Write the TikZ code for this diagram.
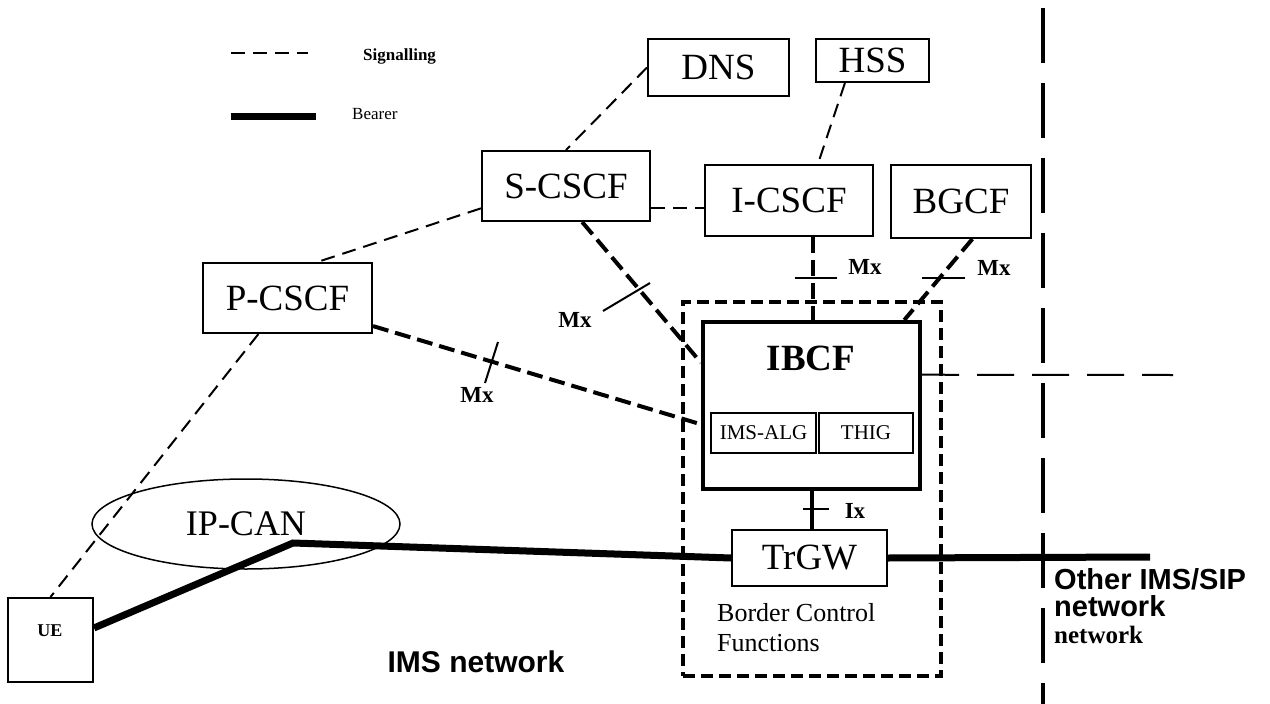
\documentclass[tikz,border=0pt]{standalone}
\usepackage{fontspec}
\setmainfont{Liberation Serif}
\setsansfont{Liberation Sans}
\usetikzlibrary{calc,shapes.geometric}
\begin{document}
\begin{tikzpicture}[x=1pt,y=-1pt,
  box/.style={draw, line width=2pt, fill=white, inner sep=0pt},
  big/.style={font=\fontsize{37}{40}\selectfont},
  sig/.style={dash pattern=on 14pt off 8pt, line width=2pt},
  sigthick/.style={dash pattern=on 16pt off 7pt, line width=4pt},
  bearer/.style={line width=7pt},
  tick/.style={line width=2pt},
  mx/.style={font=\bfseries\fontsize{23}{25}\selectfont, inner sep=0pt}]
\useasboundingbox (0,0) rectangle (1270,704);

% legend
\coordinate (lg1) at (231,53); \coordinate (lg2) at (308,53);
\draw[sig] (lg1) -- (lg2);
\node[anchor=west, inner sep=0pt, font=\bfseries\fontsize{17}{19}\selectfont] (sigtxt) at (363,56) {Signalling};
\coordinate (lb1) at (231,116); \coordinate (lb2) at (316,116);
\draw[bearer] (lb1) -- (lb2);
\node[anchor=west, inner sep=0pt, font=\fontsize{17}{19}\selectfont] (beartxt) at (352,114) {Bearer};

% border control functions area
\node[draw, dash pattern=on 12pt off 6pt, line width=3.5pt, minimum width=258pt, minimum height=374pt, inner sep=0pt] (bcf) at (812,489) {};

% boxes
\node[box, big, minimum width=141pt, minimum height=57pt] (dns) at (718.5,67.5) {DNS};
\node[box, big, minimum width=113pt, minimum height=43pt] (hss) at (872.5,60.5) {HSS};
\node[box, big, minimum width=168pt, minimum height=70pt] (scscf) at (566,186) {S-CSCF};
\node[box, big, minimum width=168pt, minimum height=71pt] (icscf) at (789,200.5) {I-CSCF};
\node[box, big, minimum width=140pt, minimum height=73pt] (bgcf) at (961,201.5) {BGCF};
\node[box, big, minimum width=169pt, minimum height=70pt] (pcscf) at (287.5,298) {P-CSCF};
\node[box, line width=4pt, minimum width=217pt, minimum height=167pt] (ibcf) at (811.5,405.5) {};
\node[inner sep=0pt, font=\bfseries\fontsize{37}{40}\selectfont] (ibcftxt) at (811,358) {IBCF};
\node[box, font=\fontsize{21}{23}\selectfont, minimum width=105pt, minimum height=40pt] (alg) at (763.5,433) {IMS-ALG};
\node[box, font=\fontsize{21}{23}\selectfont, minimum width=94pt, minimum height=40pt] (thig) at (866,433) {THIG};
\node[box, big, minimum width=155pt, minimum height=56pt] (trgw) at (809.5,558) {TrGW};
\node[box, minimum width=85pt, minimum height=84pt] (ue) at (50.5,640) {};
\node[inner sep=0pt, font=\bfseries\fontsize{18}{20}\selectfont] (uetxt) at (50,631) {UE};
\node[draw, ellipse, line width=1.5pt, minimum width=308pt, minimum height=90pt, inner sep=0pt, font=\fontsize{36}{40}\selectfont] (ipcan) at (246,524) {IP-CAN};

\node[anchor=west, inner sep=0pt, align=left, font=\fontsize{26}{30}\selectfont] (bcftxt) at (717,628) {Border Control\\Functions};

% signalling connectors
\draw[sig] (dns.west) -- (scscf.north);
\draw[sig] ($(hss.south west)!0.26!(hss.south east)$) -- ($(icscf.north west)!0.67!(icscf.north east)$);
\coordinate (sc1) at ($(scscf.south east)!0.2!(scscf.north east)$);
\draw[sig] (sc1) -- (sc1 -| icscf.west);
\draw[sig] ($(scscf.north west)!0.81!(scscf.south west)$) -- ($(pcscf.north west)!0.675!(pcscf.north east)$);
\draw[sig] ($(pcscf.south west)!0.33!(pcscf.south east)$) -- (ue.north);

\draw[sigthick] ($(pcscf.north east)!0.89!(pcscf.south east)$) -- ($(ibcf.north west)!0.61!(ibcf.south west)$);
\draw[sigthick] ($(scscf.south west)!0.595!(scscf.south east)$) -- ($(ibcf.north west)!0.25!(ibcf.south west)$);
\coordinate (ic1) at ($(icscf.south west)!0.64!(icscf.south east)$);
\draw[sigthick] (ic1) -- (ic1 |- ibcf.north);
\draw[sigthick] ($(bgcf.south west)!0.58!(bgcf.south east)$) -- ($(ibcf.north west)!0.92!(ibcf.north east)$);
\coordinate (rightend) at (1173,375);
\draw[dash pattern=on 37pt off 18pt, line width=2pt] ($(ibcf.north east)!0.32!(ibcf.south east)$) -- (rightend);
\draw[line width=4pt] (ibcf.south) -- (ibcf.south |- trgw.north);

% network boundary
\coordinate (bt) at (1043,8); \coordinate (bb) at (1043,704);
\draw[dash pattern=on 55pt off 20pt, line width=4pt] (bt) -- (bb);

% bearer
\coordinate (bend) at (293,543);
\coordinate (bearerend) at (1150,557);
\draw[bearer] ($(ue.north east)!0.36!(ue.south east)$) -- (bend) -- (trgw.west);
\draw[bearer] (trgw.east) -- (bearerend);

% ticks and labels
\draw[tick] (498,342) -- (485,383);
\node[mx] (mx1) at (477,395) {Mx};
\draw[tick] (650,283) -- (603,311);
\node[mx] (mx2) at (575,320) {Mx};
\draw[tick] (795,278) -- (837,278);
\node[mx] (mx3) at (865,267) {Mx};
\draw[tick] (922,278) -- (965,278);
\node[mx] (mx4) at (994,268) {Mx};
\draw[tick] (803,509) -- (829,509);
\node[mx] (ix) at (855,511) {Ix};

% network labels
\node[inner sep=0pt, font=\sffamily\bfseries\fontsize{30}{32}\selectfont] (imsnet) at (476,662) {IMS network};
\node[anchor=north west, inner sep=0pt, align=left, font=\sffamily\bfseries\fontsize{29}{27}\selectfont] (other) at (1054,568)
  {Other IMS/SIP\\network\\{\rmfamily\bfseries\fontsize{25}{27}\selectfont network}};
\end{tikzpicture}
\end{document}
